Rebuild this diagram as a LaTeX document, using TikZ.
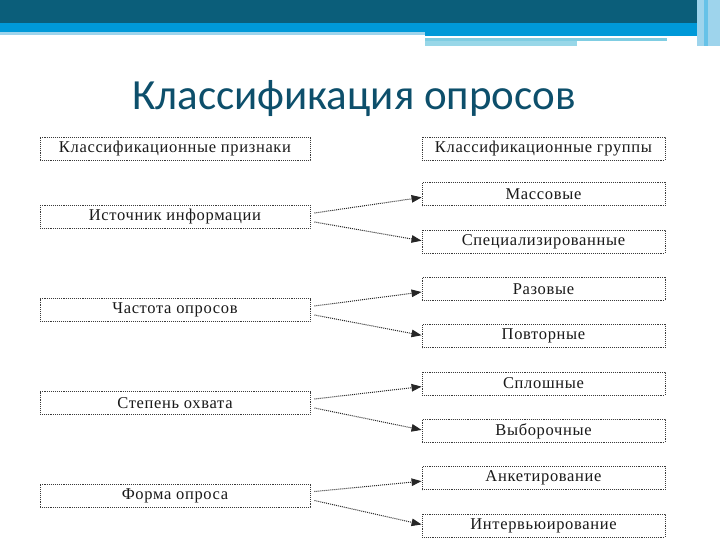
\documentclass[tikz,border=0pt]{standalone}
\usepackage{fontspec}
\setmainfont{Liberation Serif}
\newfontfamily\boxfont[LetterSpace=4]{Liberation Serif}
\newfontfamily\titlefont{Carlito}
\usetikzlibrary{arrows.meta, positioning, calc}
\definecolor{bandcolor}{HTML}{0B5E7A}
\definecolor{stripcolor}{HTML}{0099D8}
\definecolor{palecolor}{HTML}{9ED4EC}
\definecolor{cyancolor}{HTML}{7FCDE2}
\definecolor{titlecolor}{HTML}{0D4F6B}
\definecolor{boxcolor}{HTML}{3A3A3A}

\begin{document}
\begin{tikzpicture}[x=1pt, y=-1pt,
    node distance=23.4pt and 1.6cm,
    cbox/.style={draw=boxcolor, densely dotted, line width=0.9pt, fill=white,
                 minimum height=23pt, inner sep=0pt, text=black!90,
                 font=\boxfont\fontsize{16.5}{18}\selectfont},
    lbox/.style={cbox, minimum width=270pt},
    rbox/.style={cbox, minimum width=243pt},
    arr/.style={-{Triangle[length=10pt, width=7.5pt]}, densely dotted,
                line width=1pt, draw=black!85}
]
    \useasboundingbox (0,0) rectangle (720,540);
    % banner
    \fill[bandcolor]  (0,0)   rectangle (720,23);
    \fill[stripcolor] (0,23)  rectangle (720,32);
    \fill[palecolor]  (0,32)  rectangle (425,35);
    \fill[stripcolor] (425,32) rectangle (700,36);
    \fill[cyancolor]  (425,38) rectangle (667,41);
    \fill[cyancolor!80] (425,41) rectangle (577,46);
    \fill[palecolor]  (697,0) rectangle (720,46);
    \fill[stripcolor!60] (704,0) rectangle (708,46);

    \node[font=\titlefont\fontsize{43}{48}\selectfont, text=titlecolor]
        (title) at (354,99) {Классификация опросов};

    % headers
    \node[lbox] (hdrl) at (175,148.5) {Классификационные признаки};
    \node[rbox] (hdrr) at (543.5,148.5) {Классификационные группы};

    % groups
    \node[rbox, below=22pt of hdrr] (mass)  {Массовые};
    \node[rbox, below=of mass]      (spec)  {Специализированные};
    \node[rbox, below=of spec]      (once)  {Разовые};
    \node[rbox, below=of once]      (rep)   {Повторные};
    \node[rbox, below=of rep]       (full)  {Сплошные};
    \node[rbox, below=of full]      (samp)  {Выборочные};
    \node[rbox, below=of samp]      (quest) {Анкетирование};
    \node[rbox, below=of quest]     (intv)  {Интервьюирование};

    % features
    \node[lbox] (src)  at ($(hdrl)+(0,68.5)$) {Источник информации};
    \node[lbox] (freq) at ($(src)+(0,93)$)  {Частота опросов};
    \node[lbox] (cov)  at ($(freq)+(0,93)$) {Степень охвата};
    \node[lbox] (form) at ($(cov)+(0,92.5)$) {Форма опроса};

    \draw[arr] ([xshift=4pt, yshift=4pt]src.east)   -- ([yshift=-3pt]mass.west);
    \draw[arr] ([xshift=4pt, yshift=-5pt]src.east)  -- ([yshift=1pt]spec.west);
    \draw[arr] ([xshift=4pt, yshift=4pt]freq.east)  -- ([yshift=-3pt]once.west);
    \draw[arr] ([xshift=4pt, yshift=-5pt]freq.east) -- ([yshift=1pt]rep.west);
    \draw[arr] ([xshift=4pt, yshift=4pt]cov.east)   -- ([yshift=-3pt]full.west);
    \draw[arr] ([xshift=4pt, yshift=-5pt]cov.east)  -- ([yshift=1pt]samp.west);
    \draw[arr] ([xshift=4pt, yshift=4pt]form.east)  -- ([yshift=-3pt]quest.west);
    \draw[arr] ([xshift=4pt, yshift=-5pt]form.east) -- ([yshift=1pt]intv.west);
\end{tikzpicture}
\end{document}
